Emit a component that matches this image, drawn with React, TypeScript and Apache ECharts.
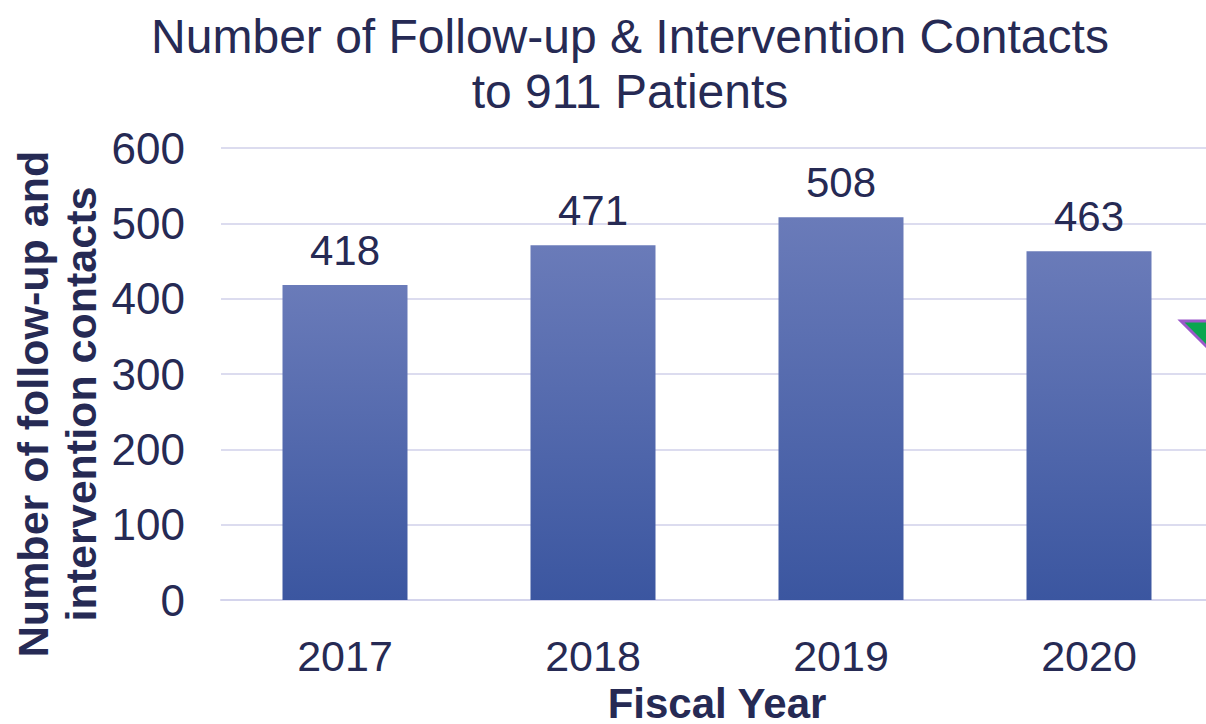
import React, { useEffect, useRef } from "react";
import * as echarts from "echarts";

const categories = ["2017", "2018", "2019", "2020"];
const contacts = [418, 471, 508, 463];
const yTicks = { min: 0, max: 600, interval: 100 };

const textColor = "#262a54";
const font = "'Liberation Sans', Arial, sans-serif";

export default function App() {
  const ref = useRef<HTMLDivElement>(null);
  useEffect(() => {
    if (!ref.current) return;
    const chart = echarts.init(ref.current, undefined, { renderer: "svg" });
    chart.setOption({
      animation: false,
      backgroundColor: "#ffffff",
      textStyle: { fontFamily: font, color: textColor },
      title: {
        text: "Number of Follow-up & Intervention Contacts\nto 911 Patients",
        left: 625,
        textAlign: "center",
        top: 4,
        textStyle: {
          fontFamily: font,
          fontSize: 48,
          fontWeight: "normal",
          color: textColor,
          lineHeight: 55,
        },
      },
      grid: {
        left: 221,
        top: 148,
        width: 992,
        height: 452,
        containLabel: false,
        outerBoundsMode: "none",
      },
      xAxis: {
        type: "category",
        data: categories,
        name: "Fiscal Year",
        nameLocation: "middle",
        nameGap: 82,
        nameTextStyle: { fontFamily: font, fontSize: 42, fontWeight: "bold", color: textColor },
        axisLine: { show: true, lineStyle: { color: "#d4d4ec", width: 2 } },
        axisTick: { show: false },
        axisLabel: { fontFamily: font, fontSize: 43, color: textColor, margin: 34 },
      },
      yAxis: {
        type: "value",
        min: yTicks.min,
        max: yTicks.max,
        interval: yTicks.interval,
        axisLine: { show: false },
        axisTick: { show: false },
        splitLine: { lineStyle: { color: "#dcdcef", width: 2 } },
        axisLabel: { fontFamily: font, fontSize: 44, color: textColor, margin: 36 },
      },
      series: [
        {
          type: "bar",
          data: contacts,
          barWidth: 125,
          itemStyle: {
            color: new echarts.graphic.LinearGradient(0, 0, 0, 1, [
              { offset: 0, color: "#6a7bb9" },
              { offset: 1, color: "#3b56a0" },
            ]),
          },
          label: {
            show: true,
            position: "top",
            distance: 14,
            fontFamily: font,
            fontSize: 42,
            color: textColor,
          },
        },
      ],
      graphic: [
        {
          type: "text",
          x: 57,
          y: 404,
          rotation: Math.PI / 2,
          style: {
            text: "Number of follow-up and\nintervention contacts",
            fontFamily: font,
            fontSize: 43,
            fontWeight: "bold",
            fill: textColor,
            lineHeight: 48,
            align: "center",
            verticalAlign: "middle",
          },
        },
        {
          type: "polygon",
          shape: { points: [[1181, 321], [1230, 321], [1230, 370]] },
          style: { fill: "#0aa64f", stroke: "#9b59c9", lineWidth: 3 },
        },
      ],
    });
    return () => chart.dispose();
  }, []);
  return (
    <div
      ref={ref}
      style={{ position: "fixed", left: 0, top: 0, width: 1206, height: 724 }}
    />
  );
}
